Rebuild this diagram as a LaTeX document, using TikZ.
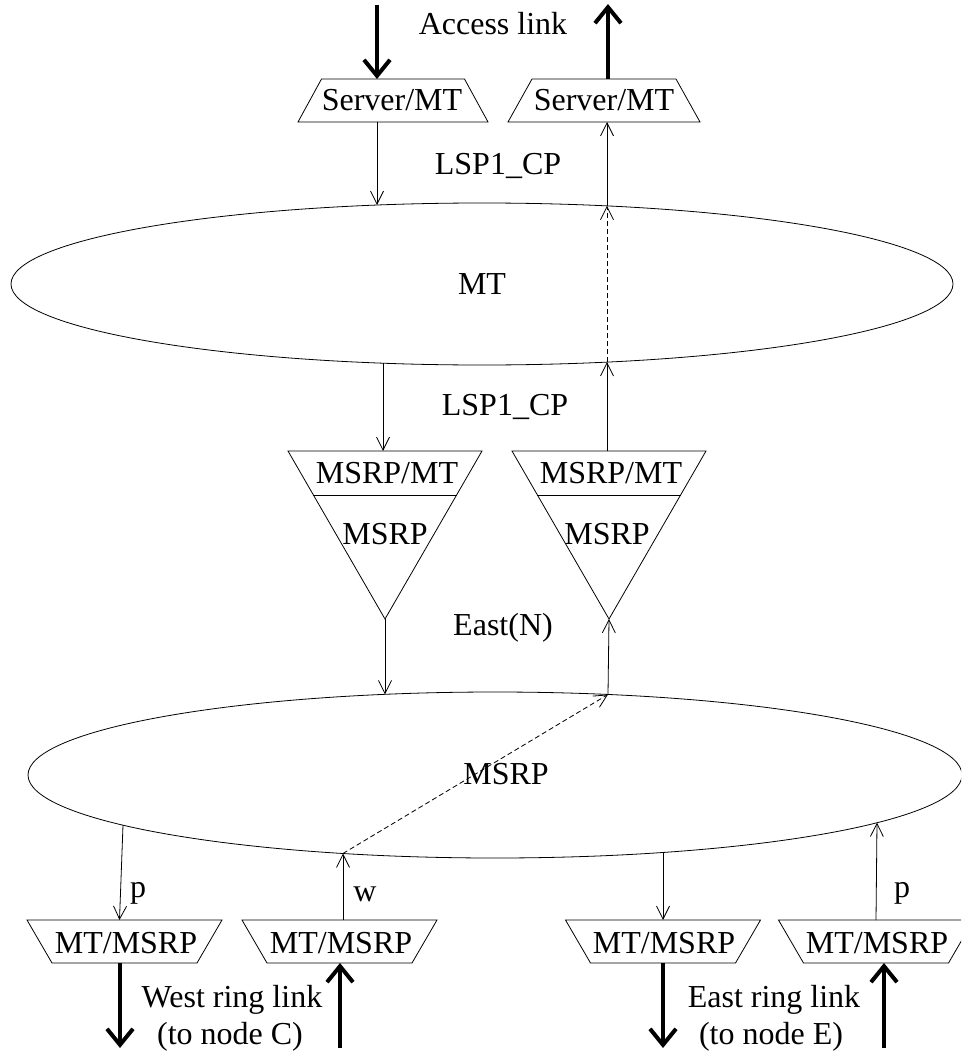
\documentclass[tikz,border=0pt]{standalone}
\usepackage{fontspec}
\setmainfont{Liberation Serif}
\usetikzlibrary{shapes.geometric,arrows.meta,calc}

% trapezoid drawn on the border of a plain rectangle node:
% \trapwide{node}{inset} -> narrow top, wide bottom
% \trapnarrow{node}{inset} -> wide top, narrow bottom
\newcommand\trapwide[2]{%
  \draw[hair] (#1.south west) -- ([xshift=#2]#1.north west)
    -- ([xshift=-#2]#1.north east) -- (#1.south east) -- cycle;}
\newcommand\trapnarrow[2]{%
  \draw[hair] (#1.north west) -- ([xshift=#2]#1.south west)
    -- ([xshift=-#2]#1.south east) -- (#1.north east) -- cycle;}

\begin{document}
\begin{tikzpicture}[x=1pt,y=-1pt,
  font=\fontsize{32}{38}\selectfont,
  hair/.style={line width=0.8pt},
  link/.style={hair,-{Straight Barb[length=13pt,width=13pt]}},
  dlink/.style={link,dash pattern=on 5pt off 3pt},
  trunk/.style={line width=4pt,-{Straight Barb[length=16pt,width=26pt]}},
  layer/.style={ellipse,draw,hair,inner sep=0pt,outer sep=0pt},
  tbox/.style={rectangle,minimum width=#1,minimum height=43pt,inner sep=0pt,outer sep=0pt},
  tri/.style={rectangle,minimum width=194pt,minimum height=168pt,inner sep=0pt,outer sep=0pt},
  lbl/.style={anchor=base,inner sep=0pt},
]
\clip (0,0) rectangle (961,1051);

% ---------- access side ----------
\node[tbox=190pt] (srvL) at (393,100.5) {};
\trapwide{srvL}{23.5pt}
\node[lbl] (srvLt) at (392,111) {Server/MT};
\node[tbox=192pt] (srvR) at (604,100.5) {};
\trapwide{srvR}{24pt}
\node[lbl] (srvRt) at (604,111) {Server/MT};

\node[lbl] (acc) at (493,35) {Access link};
\coordinate (accIn) at (377,5);
\coordinate (accOut) at (608,4);
\draw[trunk] (accIn) -- (accIn |- srvL.north);
\draw[trunk] (accOut |- srvR.north) -- (accOut);

% ---------- MT layer (half axes 471 x 81) ----------
\node[layer,minimum width=942pt,minimum height=162pt] (mt) at (482,284) {MT};
\coordinate (mtInL)  at ($(mt.center)+(-105,-79)$);
\coordinate (mtOutR) at ($(mt.center)+(125,-78.1)$);
\coordinate (mtDnL)  at ($(mt.center)+(-99,79.2)$);
\coordinate (mtUpR)  at ($(mt.center)+(125,78.1)$);

\node[lbl] (lsp1) at (498,175) {LSP1\_CP};
\draw[link] (mtInL |- srvL.south) -- (mtInL);
\draw[link] (mtOutR) -- (mtOutR |- srvR.south);
\draw[dlink] (mtUpR) -- (mtOutR);

% ---------- MSRP/MT adaptation ----------
\node[tri] (triL) at (385,535) {};
\draw[hair] (triL.north west) -- (triL.north east) -- (triL.south) -- cycle;
\draw[hair] ($(triL.north west)!44/168!(triL.south)$) -- ($(triL.north east)!44/168!(triL.south)$);
\node[lbl] (triLa) at (387,483) {MSRP/MT};
\node[lbl] (triLb) at (385,544) {MSRP};

\node[tri] (triR) at (609,535) {};
\draw[hair] (triR.north west) -- (triR.north east) -- (triR.south) -- cycle;
\draw[hair] ($(triR.north west)!44/168!(triR.south)$) -- ($(triR.north east)!44/168!(triR.south)$);
\node[lbl] (triRa) at (611,483) {MSRP/MT};
\node[lbl] (triRb) at (607,544) {MSRP};

\node[lbl] (lsp2) at (505,415) {LSP1\_CP};
\node[lbl] (east) at (503,635) {East(N)};

\draw[link] (mtDnL) -- (mtDnL |- triL.north);
\draw[link] (mtUpR |- triR.north) -- (mtUpR);

% ---------- MSRP layer (half axes 467 x 83) ----------
\node[layer,minimum width=934pt,minimum height=166pt] (msrp) at (495,775) {};
\node[lbl] (msrpt) at (506,784) {MSRP};
\coordinate (msInL)  at ($(msrp.center)+(-110,-80.7)$);
\coordinate (msOutR) at ($(msrp.center)+(113,-80.5)$);
\coordinate (msP1)   at ($(msrp.center)+(-372,50.2)$);
\coordinate (msW)    at ($(msrp.center)+(-152,78.5)$);
\coordinate (msE1)   at ($(msrp.center)+(168,77.4)$);
\coordinate (msP2)   at ($(msrp.center)+(382,47.7)$);

\draw[link] (triL.south) -- (msInL);
\draw[link] (msOutR) -- (triR.south);
\draw[dlink] (msW) -- (msOutR);

% ---------- ring side ----------
\node[tbox=195pt] (ml1) at (124.5,941.5) {};
\trapnarrow{ml1}{25pt}
\node[lbl] (ml1t) at (126,953) {MT/MSRP};
\node[tbox=195pt] (ml2) at (339.5,941.5) {};
\trapnarrow{ml2}{25pt}
\node[lbl] (ml2t) at (341,953) {MT/MSRP};
\node[tbox=195pt] (ml3) at (663,941.5) {};
\trapnarrow{ml3}{25pt}
\node[lbl] (ml3t) at (664,953) {MT/MSRP};
\node[tbox=195pt] (ml4) at (876,941.5) {};
\trapnarrow{ml4}{25pt}
\node[lbl] (ml4t) at (877,953) {MT/MSRP};

\draw[link] (msP1) -- ([xshift=-5pt]ml1.north);
\draw[link] (msW |- ml2.north) -- (msW);
\draw[link] (msE1) -- (msE1 |- ml3.north);
\draw[link] (ml4.north) -- (msP2);

\node[lbl] (pL) at (138,897) {p};
\node[lbl] (wL) at (365,901) {w};
\node[lbl] (pR) at (902,897) {p};

\coordinate (wOut) at (120,1048);
\coordinate (wIn) at (340,1048);
\coordinate (eOut) at (663,1048);
\coordinate (eIn) at (884,1048);
\draw[trunk] (wOut |- ml1.south) -- (wOut);
\draw[trunk] (wIn) -- (wIn |- ml2.south);
\draw[trunk] (eOut |- ml3.south) -- (eOut);
\draw[trunk] (eIn) -- (eIn |- ml4.south);

\node[lbl] (west1) at (232,1007) {West ring link};
\node[lbl] (west2) at (230,1044) {(to node C)};
\node[lbl] (east1) at (774,1007) {East ring link};
\node[lbl] (east2) at (771,1044) {(to node E)};
\end{tikzpicture}
\end{document}
